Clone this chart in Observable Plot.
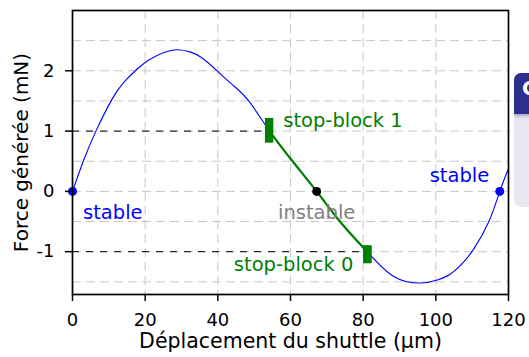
<!DOCTYPE html>
<html><head><meta charset="utf-8">
<script src="https://cdn.jsdelivr.net/npm/d3@7"></script>
<script src="https://cdn.jsdelivr.net/npm/@observablehq/plot@0.6"></script>
<style>
html,body{margin:0;padding:0;background:#fff;}
#wrap{position:relative;width:529px;height:357px;overflow:hidden;}
.blk{position:absolute;left:514px;top:73px;width:40px;height:134px;border-radius:7px;background:#e8e8f3;overflow:hidden;}
.blk .hd{height:41px;background:#2e2e8c;color:#fff;font:bold 20px "DejaVu Sans";padding-left:8px;line-height:30px;box-shadow:0 2px 3px rgba(40,40,120,0.35);}
</style></head><body><div id="wrap"><div class="blk"><div class="hd">C</div></div></div>
<script>
// Curve (x in µm, force in mN)
const curveX = [0, 3.1, 6.6, 10.9, 14, 17.8, 21, 25, 29, 32.5, 35.5, 39.8, 44, 48.5, 54.2, 60.3, 67.2, 73.9, 81.1, 88.4, 95.8, 100.4, 104, 107.5, 110.5, 114.6, 117.6, 120];
const curveY = [0, 0.52, 1.02, 1.53, 1.8, 2.03, 2.18, 2.3, 2.35, 2.31, 2.22, 2.0, 1.77, 1.5, 1.0, 0.52, 0, -0.52, -1.0, -1.41, -1.52, -1.47, -1.37, -1.18, -0.95, -0.5, 0, 0.38];

// Stop-blocks
const stopX = [54.2, 81.1];
const stopY = [1, -1];
const blockX1 = [53.1, 80.1];
const blockX2 = [55.4, 82.5];
const blockY1 = [0.80, -1.20];
const blockY2 = [1.21, -0.90];

// Equilibrium points
const pointX = [0, 67.2, 117.6];
const pointY = [0, 0, 0];
const pointColor = ["#0000ff", "#000000", "#0000ff"];

// Annotations
const labelText = ["stable", "stop-block 1", "instable", "stop-block 0", "stable"];
const labelX = [2.9, 58.0, 67.2, 77.3, 106.5];
const labelY = [-0.35, 1.17, -0.35, -1.21, 0.255];
const labelAnchor = ["start", "start", "middle", "end", "middle"];
const labelColor = ["#0000ff", "#008000", "#808080", "#008000", "#0000ff"];

// Axes
const xTicks = [0, 20, 40, 60, 80, 100, 120];
const yTicks = [-1, 0, 1, 2];
const xGrid = [20, 40, 60, 80, 100];
const yGrid = [-1.5, -1, -0.5, 0, 0.5, 1, 1.5, 2, 2.5];
const xLabelSans = "Déplacement du shuttle ";
const xLabelSerif = "(μm)";
const yLabelSans = "Force générée ";
const yLabelSerif = "(mN)";

const curve = curveX.map((x, i) => ({x, y: curveY[i]}));
const green = curve.filter(d => d.x >= stopX[0] - 1e-9 && d.x <= stopX[1] + 1e-9);
const guides = stopX.map((x, i) => ({x1: 0, x2: x, y: stopY[i]}));
const blocks = blockX1.map((x1, i) => ({x1, x2: blockX2[i], y1: blockY1[i], y2: blockY2[i]}));
const points = pointX.map((x, i) => ({x, y: pointY[i], c: pointColor[i]}));
const labels = labelText.map((t, i) => ({t, x: labelX[i], y: labelY[i], a: labelAnchor[i], c: labelColor[i]}));

const gridStyle = {stroke: "#c8c8c8", strokeOpacity: 1, strokeWidth: 1, strokeDasharray: "9,5"};

const chart = Plot.plot({
  width: 529,
  height: 357,
  marginLeft: 72,
  marginRight: 21,
  marginTop: 10,
  marginBottom: 63,
  style: {fontFamily: "'DejaVu Sans', sans-serif", fontSize: "18px", background: "#fff", color: "#000"},
  x: {domain: [0, 120]},
  y: {domain: [-1.71, 3.0]},
  marks: [
    Plot.gridX(xGrid, gridStyle),
    Plot.gridY(yGrid, gridStyle),
    Plot.ruleY(guides, {x1: "x1", x2: "x2", y: "y", stroke: "#000", strokeWidth: 1, strokeDasharray: "7,7"}),
    Plot.line(curve, {x: "x", y: "y", stroke: "#0000ff", strokeWidth: 1.1, curve: "natural"}),
    Plot.line(green, {x: "x", y: "y", stroke: "#008000", strokeWidth: 2.2, curve: "natural"}),
    Plot.rect(blocks, {x1: "x1", x2: "x2", y1: "y1", y2: "y2", fill: "#008000"}),
    Plot.dot(points, {x: "x", y: "y", r: 4.5, fill: d => d.c, stroke: "none"}),
    ...labels.map(l => Plot.text([l], {x: "x", y: "y", text: "t", textAnchor: l.a, fill: l.c, fontSize: 19.5})),
    Plot.frame({stroke: "#000", strokeWidth: 1.7}),
    Plot.axisX(xTicks, {tickSize: 7, tickPadding: 12, strokeWidth: 1.5, fontSize: 18, label: null, tickFormat: d => String(d)}),
    Plot.axisY(yTicks, {tickSize: 7, tickPadding: 11, strokeWidth: 1.5, fontSize: 18, label: null, tickFormat: d => String(d)}),
    Plot.text([xLabelSans + xLabelSerif], {frameAnchor: "bottom", textAnchor: "middle", dy: 53, fontSize: 20.5, fill: "#000", ariaLabel: "xlabel"}),
    Plot.text([yLabelSans + yLabelSerif], {frameAnchor: "left", textAnchor: "middle", rotate: -90, dx: -51, fontSize: 20, fill: "#000", ariaLabel: "ylabel"})
  ]
});

function serify(svg, aria, sansPart, serifPart) {
  const t = svg.querySelector(`g[aria-label="${aria}"] text`);
  if (!t) return;
  t.textContent = sansPart;
  const ts = document.createElementNS("http://www.w3.org/2000/svg", "tspan");
  ts.setAttribute("font-family", "'Liberation Serif', 'DejaVu Serif', serif");
  ts.setAttribute("font-size", "21.5");
  ts.textContent = serifPart;
  t.appendChild(ts);
}
serify(chart, "xlabel", xLabelSans, xLabelSerif);
serify(chart, "ylabel", yLabelSans, yLabelSerif);

document.getElementById("wrap").insertBefore(chart, document.querySelector(".blk"));
</script>
</body></html>
